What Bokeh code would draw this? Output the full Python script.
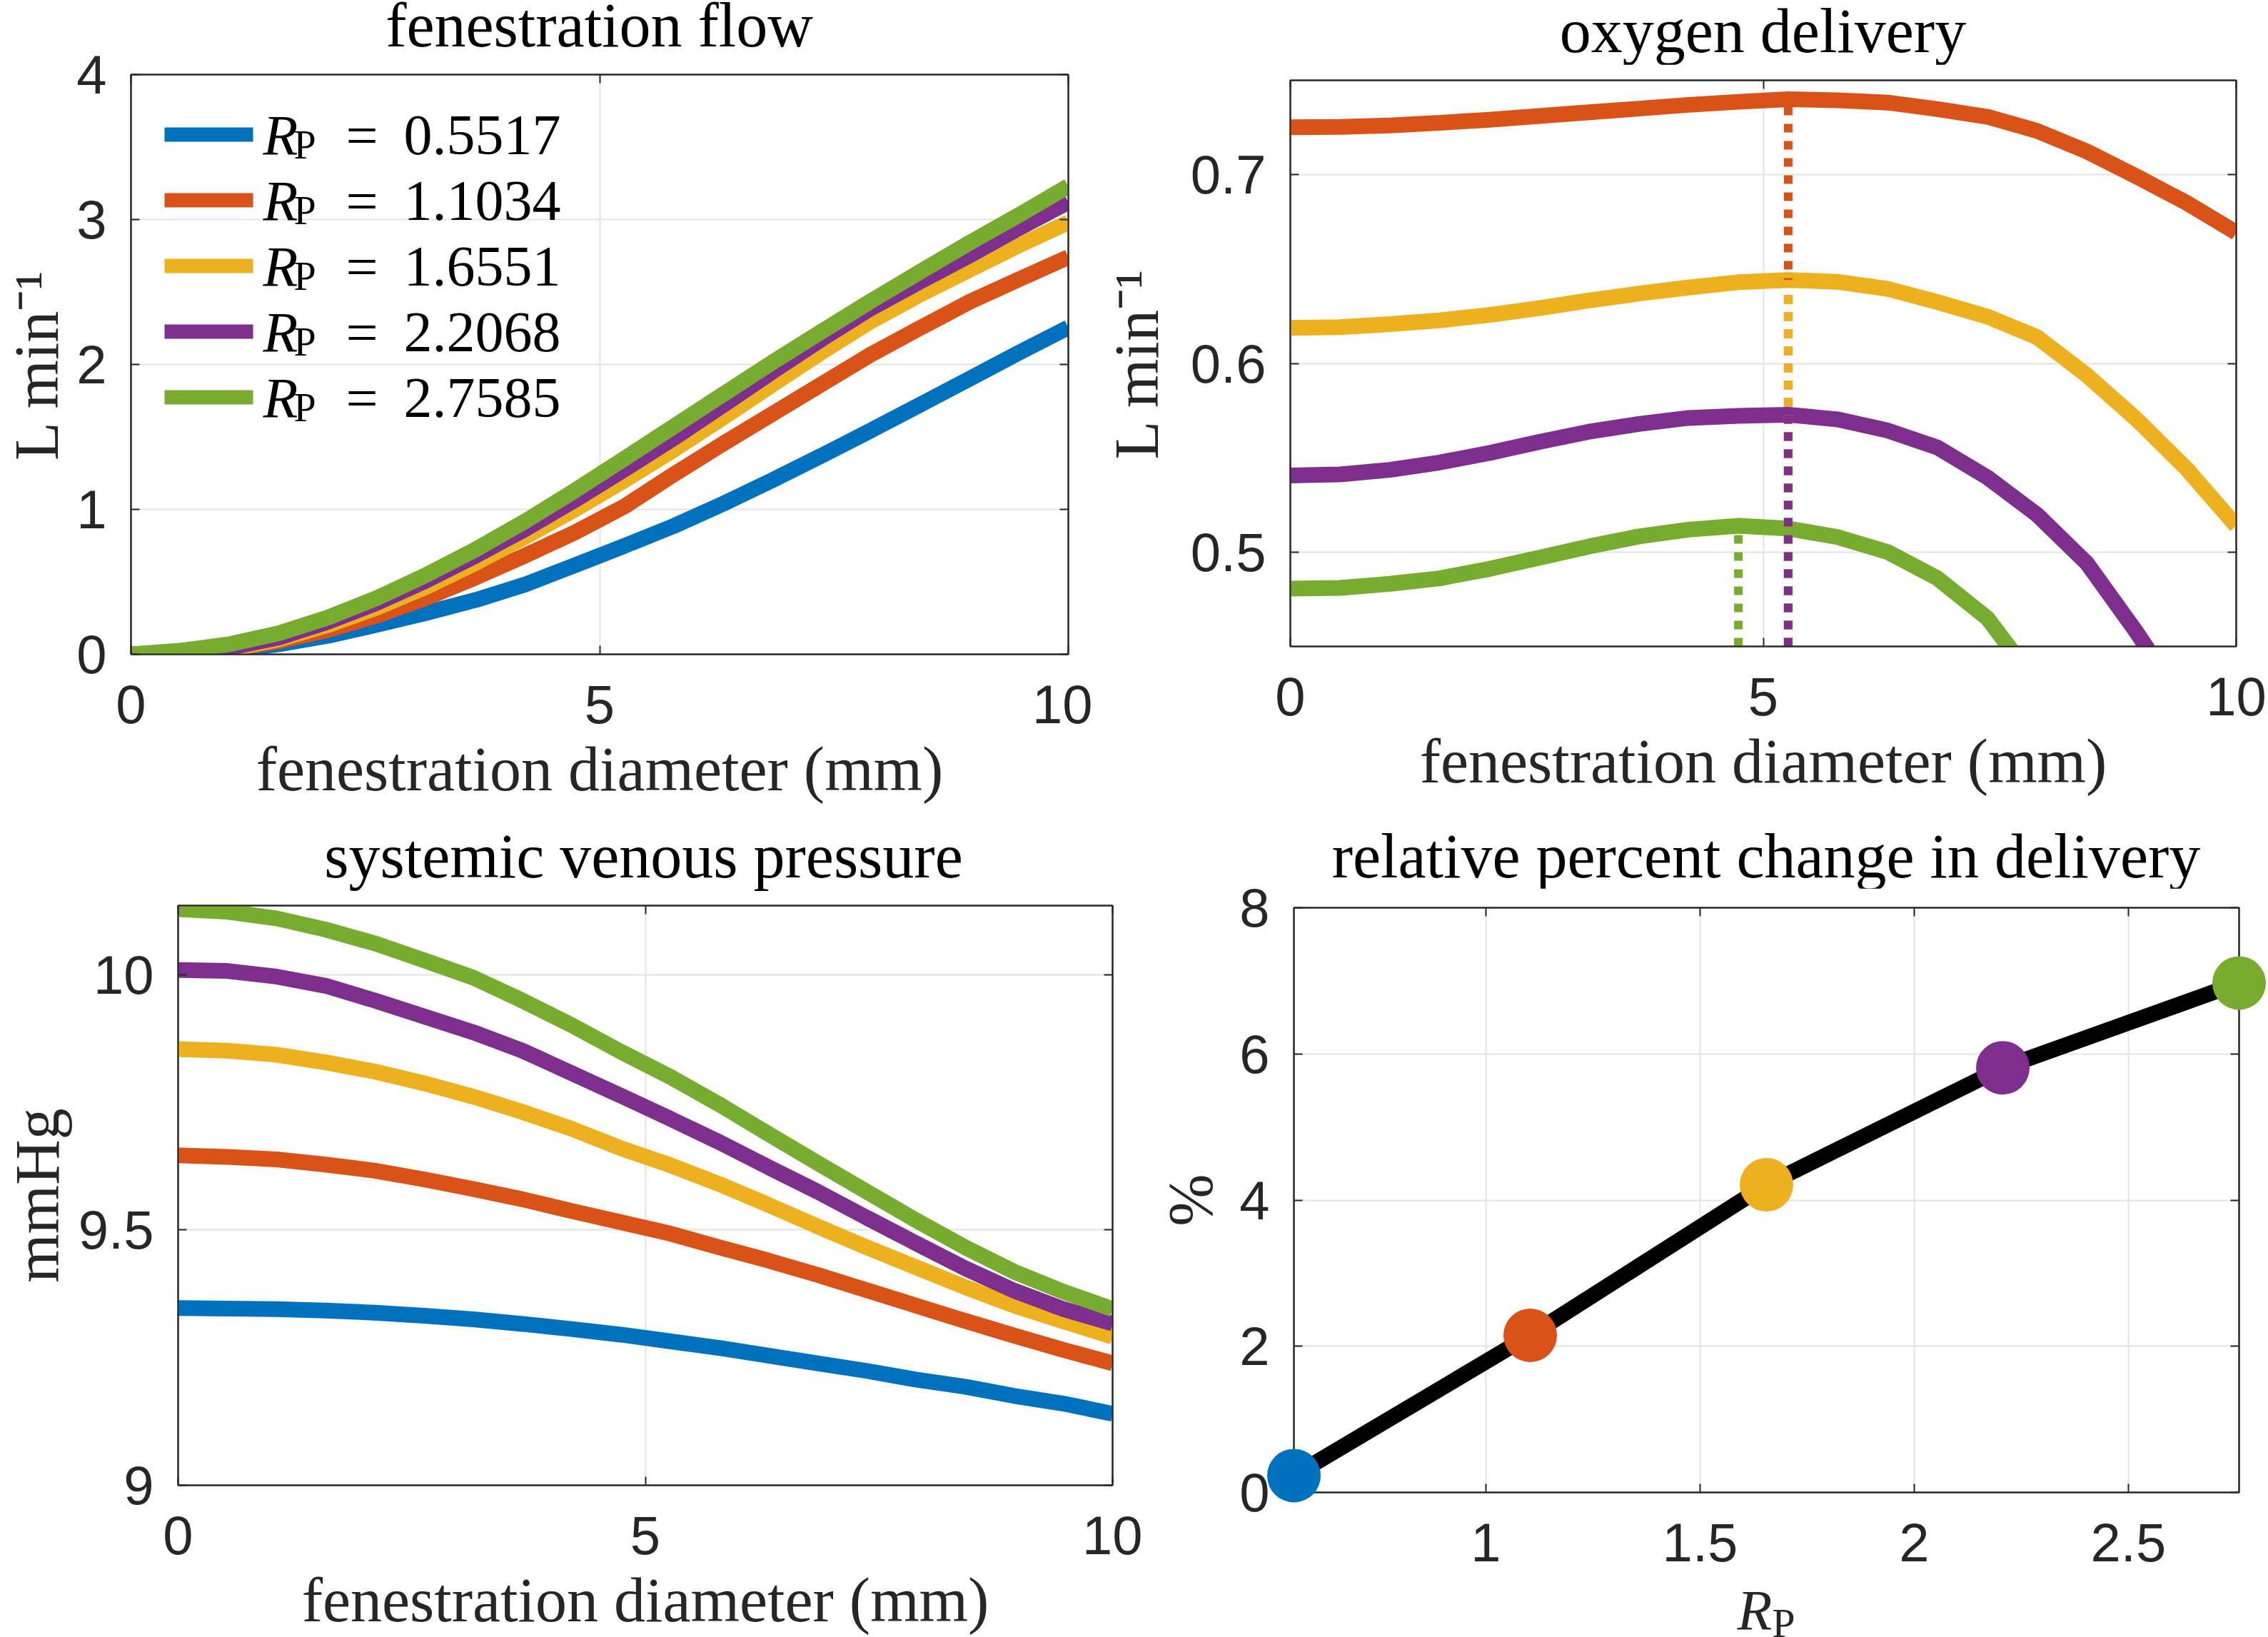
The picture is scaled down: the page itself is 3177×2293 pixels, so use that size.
from bokeh.plotting import figure
from bokeh.layouts import column, row
from bokeh.models import FixedTicker, LinearAxis, Label, BoxAnnotation, Range1d, Div
from bokeh.embed import file_html
from bokeh.resources import INLINE

# ---------------------------------------------------------------- data
# fenestration diameter grid (mm), 20 samples from 0 to 10
diameter_mm = [0.0, 0.5263, 1.0526, 1.5789, 2.1053, 2.6316, 3.1579, 3.6842, 4.2105, 4.7368,
               5.2632, 5.7895, 6.3158, 6.8421, 7.3684, 7.8947, 8.4211, 8.9474, 9.4737, 10.0]

rp_values = [0.5517, 1.1034, 1.6551, 2.2068, 2.7585]
rp_text = ["0.5517", "1.1034", "1.6551", "2.2068", "2.7585"]
series_colors = ["#0072BD", "#D95319", "#EDB120", "#7E2F8E", "#77AC30"]

# fenestration flow (L/min), one list per R_P
flow_rp1 = [0.0, 0.006, 0.028, 0.070, 0.128, 0.205, 0.287, 0.376, 0.483, 0.614,
            0.748, 0.885, 1.038, 1.201, 1.371, 1.545, 1.723, 1.902, 2.081, 2.255]
flow_rp2 = [0.0, 0.006, 0.035, 0.091, 0.169, 0.269, 0.391, 0.532, 0.683, 0.841,
            1.020, 1.241, 1.453, 1.658, 1.864, 2.069, 2.253, 2.432, 2.587, 2.740]
flow_rp3 = [0.0, 0.006, 0.036, 0.104, 0.203, 0.324, 0.467, 0.633, 0.812, 1.000,
            1.200, 1.411, 1.633, 1.860, 2.085, 2.298, 2.483, 2.653, 2.822, 2.980]
flow_rp4 = [0.0, 0.012, 0.046, 0.116, 0.225, 0.357, 0.511, 0.683, 0.866, 1.065,
            1.275, 1.491, 1.719, 1.950, 2.175, 2.388, 2.573, 2.752, 2.941, 3.120]
flow_rp5 = [0.0, 0.025, 0.070, 0.145, 0.255, 0.390, 0.550, 0.726, 0.920, 1.130,
            1.350, 1.571, 1.793, 2.014, 2.227, 2.438, 2.640, 2.840, 3.031, 3.230]

# oxygen delivery (L/min); R_P = 0.5517 lies above the shown window
o2_rp2 = [0.7251, 0.7253, 0.7261, 0.7275, 0.7291, 0.7311, 0.7331, 0.7350, 0.7370, 0.7386,
          0.7400, 0.7394, 0.7382, 0.7347, 0.7307, 0.7232, 0.7123, 0.6990, 0.6851, 0.6693]
o2_rp3 = [0.6188, 0.6192, 0.6208, 0.6228, 0.6257, 0.6293, 0.6333, 0.6370, 0.6402, 0.6430,
          0.6442, 0.6432, 0.6395, 0.6325, 0.6248, 0.6139, 0.5937, 0.5703, 0.5442, 0.5139]
o2_rp4 = [0.5406, 0.5412, 0.5436, 0.5475, 0.5525, 0.5584, 0.5638, 0.5679, 0.5711, 0.5722,
          0.5728, 0.5703, 0.5644, 0.5554, 0.5396, 0.5198, 0.4941, 0.4574, 0.4180]
o2_rp5 = [0.4806, 0.4810, 0.4832, 0.4861, 0.4911, 0.4970, 0.5030, 0.5083, 0.5119, 0.5139,
          0.5125, 0.5079, 0.5000, 0.4861, 0.4650, 0.4300]

# systemic venous pressure (mmHg)
svp_rp1 = [9.347, 9.346, 9.345, 9.342, 9.338, 9.332, 9.325, 9.316, 9.306, 9.295,
           9.282, 9.269, 9.254, 9.239, 9.224, 9.207, 9.193, 9.175, 9.160, 9.140]
svp_rp2 = [9.646, 9.643, 9.638, 9.628, 9.616, 9.599, 9.580, 9.560, 9.537, 9.515,
           9.493, 9.466, 9.440, 9.412, 9.382, 9.352, 9.322, 9.293, 9.265, 9.239]
svp_rp3 = [9.854, 9.851, 9.843, 9.828, 9.810, 9.787, 9.761, 9.731, 9.698, 9.660,
           9.627, 9.590, 9.549, 9.507, 9.466, 9.427, 9.388, 9.352, 9.321, 9.291]
svp_rp4 = [10.009, 10.007, 9.996, 9.978, 9.949, 9.918, 9.887, 9.851, 9.807, 9.763,
           9.718, 9.672, 9.623, 9.575, 9.524, 9.474, 9.425, 9.381, 9.345, 9.317]
svp_rp5 = [10.128, 10.123, 10.110, 10.088, 10.061, 10.028, 9.994, 9.949, 9.901, 9.849,
           9.800, 9.746, 9.688, 9.631, 9.575, 9.519, 9.466, 9.418, 9.379, 9.345]

# relative percent change in delivery (%)
delivery_change_pct = [0.23, 2.15, 4.21, 5.81, 6.97]

# axis ticks
diam_ticks = [0, 5, 10]
diam_tick_text = ["0", "5", "10"]
flow_ticks = [0, 1, 2, 3, 4]
flow_tick_text = ["0", "1", "2", "3", "4"]
o2_ticks = [0.5, 0.6, 0.7]
o2_tick_text = ["0.5", "0.6", "0.7"]
svp_ticks = [9, 9.5, 10]
svp_tick_text = ["9", "9.5", "10"]
rp_ticks = [1, 1.5, 2, 2.5]
rp_tick_text = ["1", "1.5", "2", "2.5"]
pct_ticks = [0, 2, 4, 6, 8]
pct_tick_text = ["0", "2", "4", "6", "8"]

# ---------------------------------------------------------------- styling
SERIF = "Liberation Serif"
SANS = "Liberation Sans"
INK = "#262626"
GRID = "#e3e3e3"
LW = 22
TITLE_SIZE = 88
LABEL_PX = "88px"
TICK_PX = "76px"
BASELINE_SHIFT = 0.3   # Label baseline correction, in em
HTML_BASELINE = 0.264  # baseline offset below the line-box centre, in em


def style_axis(ax, ticks, texts, hidden=False):
    ax.ticker = FixedTicker(ticks=ticks)
    ax.major_label_overrides = {t: ("" if hidden else s) for t, s in zip(ticks, texts)}
    ax.major_tick_in = 12
    ax.major_tick_out = 0
    ax.major_tick_line_color = INK
    ax.major_tick_line_width = 2
    ax.minor_tick_line_color = None
    ax.axis_line_color = INK
    ax.axis_line_width = 2
    ax.major_label_text_font = SANS
    ax.major_label_text_font_size = "1px" if hidden else TICK_PX
    ax.major_label_text_color = INK
    ax.axis_label_text_font = SERIF
    ax.axis_label_text_font_style = "normal"
    ax.axis_label_text_font_size = LABEL_PX
    ax.axis_label_text_color = INK


def text_label(x, y, text, size, italic=False, color="black"):
    # y is the wanted baseline height above the frame's bottom edge, in px
    return Label(x=x, y=y + BASELINE_SHIFT * size, x_units="screen", y_units="screen",
                 text=text, text_align="left", text_baseline="alphabetic",
                 text_font=SERIF, text_font_style="italic" if italic else "normal",
                 text_font_size=f"{size}px", text_color=color)


def text_band(w, h, cx, baseline, html, size, color="black"):
    """A strip of HTML text centred on x = cx with its baseline at `baseline` px from the top."""
    if 2 * cx >= w:
        ml, bw = 2 * cx - w, 2 * (w - cx)
    else:
        ml, bw = 0, 2 * cx
    lh = 2 * (baseline - HTML_BASELINE * size)
    inner = (f'<div style="margin-left:{ml:.1f}px;width:{bw:.1f}px;text-align:center;'
             f'white-space:nowrap;font-family:\'{SERIF}\';font-size:{size}px;'
             f'line-height:{lh:.1f}px;color:{color};">{html}</div>')
    return Div(text=inner, width=w, height=h, margin=0, styles={"overflow": "visible"})


def panel(w, h, frame, xr, yr, xt, xtt, yt, ytt):
    left, right, top, bottom = frame
    p = figure(width=w, height=h, x_range=Range1d(*xr), y_range=Range1d(*yr),
               output_backend="svg", toolbar_location=None,
               min_border_left=left, min_border_right=w - right,
               min_border_top=top, min_border_bottom=h - bottom)
    p.background_fill_color = "white"
    p.border_fill_color = "white"
    p.outline_line_color = INK
    p.outline_line_width = 2
    xa, ya = p.xaxis[0], p.yaxis[0]
    style_axis(xa, xt, xtt)
    style_axis(ya, yt, ytt)
    xa.major_label_standoff = 43
    ya.major_label_standoff = 34
    top_ax = LinearAxis()
    style_axis(top_ax, xt, xtt, hidden=True)
    top_ax.major_label_standoff = 0
    p.add_layout(top_ax, "above")
    right_ax = LinearAxis()
    style_axis(right_ax, yt, ytt, hidden=True)
    right_ax.major_label_standoff = 0
    p.add_layout(right_ax, "right")
    for g in (p.xgrid[0], p.ygrid[0]):
        g.grid_line_color = GRID
        g.grid_line_width = 2
    p.xgrid[0].ticker = FixedTicker(ticks=xt)
    p.ygrid[0].ticker = FixedTicker(ticks=yt)
    return p, xa, ya


# ---------------------------------------------------------------- fenestration flow
t1 = text_band(1530, 66, 839.5, 59, "fenestration flow", TITLE_SIZE)
f1, f1x, f1y = panel(1530, 1084, (183, 1496, 38, 850), (0, 10), (0, 4),
                     diam_ticks, diam_tick_text, flow_ticks, flow_tick_text)
f1x.axis_label = "fenestration diameter (mm)"
f1x.axis_label_standoff = 13
f1y.axis_label = "L min\u207b\u00b9"
f1y.axis_label_standoff = 4
for ys, c in zip([flow_rp1, flow_rp2, flow_rp3, flow_rp4, flow_rp5], series_colors):
    f1.line(diameter_mm, ys, line_color=c, line_width=LW)

# legend rows (screen offsets from the frame's lower-left corner)
legend_first_row = 728
legend_step = 92
for i, (txt, c) in enumerate(zip(rp_text, series_colors)):
    yc = legend_first_row - i * legend_step
    f1.add_layout(BoxAnnotation(left=47, right=171, bottom=yc - 10, top=yc + 10,
                                left_units="screen", right_units="screen",
                                bottom_units="screen", top_units="screen",
                                fill_color=c, fill_alpha=1.0, line_color=None))
    f1.add_layout(text_label(185, yc - 25, "R", 80, italic=True))
    f1.add_layout(text_label(228, yc - 31, "P", 56))
    f1.add_layout(text_label(301, yc - 25, "=", 80))
    f1.add_layout(text_label(382, yc - 25, txt, 80))

# ---------------------------------------------------------------- oxygen delivery
o2_ylim = (0.45, 0.75)
t2 = text_band(1647, 90, 939.5, 67, "oxygen delivery", TITLE_SIZE)
f2, f2x, f2y = panel(1647, 1060, (277, 1602, 22, 815), (0, 10), o2_ylim,
                     diam_ticks, diam_tick_text, o2_ticks, o2_tick_text)
f2x.axis_label = "fenestration diameter (mm)"
f2x.axis_label_standoff = 13
f2y.axis_label = "L min\u207b\u00b9"
f2y.axis_label_standoff = 24
o2_series = [o2_rp2, o2_rp3, o2_rp4, o2_rp5]
o2_colors = series_colors[1:]
for ys, c in zip(o2_series, o2_colors):
    f2.line(diameter_mm[:len(ys)], ys, line_color=c, line_width=LW)
# dotted drop lines at each curve's maximum
for ys, c in zip(o2_series, o2_colors):
    k = max(range(len(ys)), key=lambda j: ys[j])
    f2.segment(x0=[diameter_mm[k]], y0=[o2_ylim[0]], x1=[diameter_mm[k]], y1=[ys[k]],
               line_color=c, line_width=12, line_dash="12 12", line_cap="butt")

# ---------------------------------------------------------------- systemic venous pressure
t3 = text_band(1600, 100, 901.5, 73, "systemic venous pressure", TITLE_SIZE)
f3, f3x, f3y = panel(1600, 1043, (245, 1558, 18, 830), (0, 10), (9, 10.135),
                     diam_ticks, diam_tick_text, svp_ticks, svp_tick_text)
f3x.axis_label = "fenestration diameter (mm)"
f3x.axis_label_standoff = 13
f3y.axis_label = "mmHg"
f3y.axis_label_standoff = 6
for ys, c in zip([svp_rp1, svp_rp2, svp_rp3, svp_rp4, svp_rp5], series_colors):
    f3.line(diameter_mm, ys, line_color=c, line_width=LW)

# ---------------------------------------------------------------- relative change
t4 = text_band(1577, 94, 874, 73, "relative percent change in delivery", TITLE_SIZE)
f4, f4x, f4y = panel(1577, 966, (212, 1536, 27, 846), (rp_values[0], rp_values[-1]), (0, 8),
                     rp_ticks, rp_tick_text, pct_ticks, pct_tick_text)
f4y.axis_label = "%"
f4y.axis_label_standoff = 17
f4.line(rp_values, delivery_change_pct, line_color="black", line_width=LW)
dots = f4.scatter(rp_values, delivery_change_pct, size=75, fill_color=series_colors,
                  line_color=None)
dots.level = "overlay"

# x-axis title R_P under the last panel
foot4 = text_band(1577, 83, 874, 68,
                  '<i>R</i><span style="font-size:58px;line-height:0;'
                  'vertical-align:-10px;">P</span>', 80, color=INK)

layout = column(row(column(t1, f1), column(t2, f2)),
                row(column(t3, f3), column(t4, f4, foot4)))
open("out.html", "w").write(file_html(layout, INLINE))
